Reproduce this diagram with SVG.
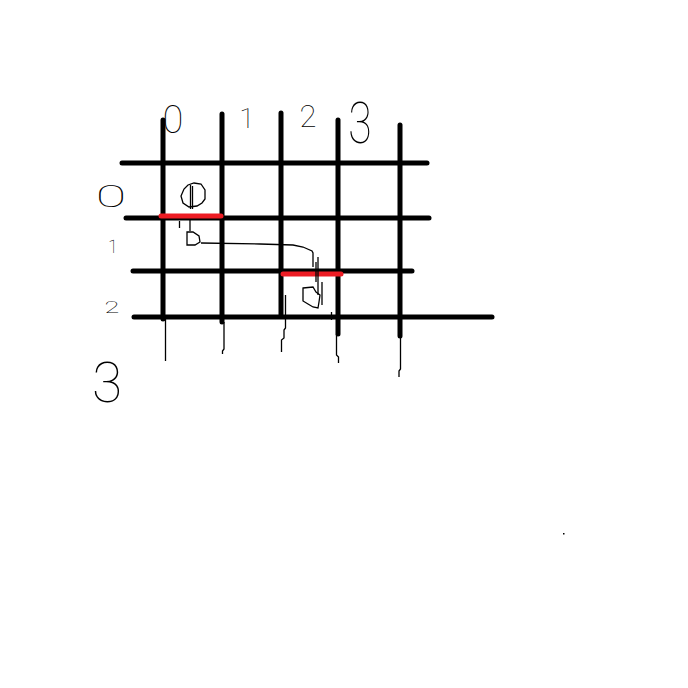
<svg xmlns="http://www.w3.org/2000/svg" width="688" height="688" viewBox="0 0 688 688">
<style>
.grid{stroke:#000;stroke-width:5;stroke-linecap:round;fill:none}
.red{stroke:#ed1c24;stroke-width:5;stroke-linecap:round;fill:none}
.thin{stroke:#000;stroke-width:1.3;fill:none;stroke-linejoin:miter}
.lbl{font-family:Roboto,"Liberation Sans",sans-serif;font-weight:100;fill:#000;text-anchor:middle}
</style>
<rect width="688" height="688" fill="#fff"/>
<g id="grid">
<line class="grid" x1="163" y1="120" x2="163" y2="319"/>
<line class="grid" x1="222" y1="114" x2="222" y2="322"/>
<line class="grid" x1="281" y1="113" x2="281" y2="315"/>
<line class="grid" x1="338" y1="120" x2="338" y2="334"/>
<line class="grid" x1="400" y1="125" x2="400" y2="336"/>
<line class="grid" x1="122" y1="163" x2="427" y2="163"/>
<line class="grid" x1="126" y1="218" x2="429" y2="218"/>
<line class="grid" x1="133" y1="271" x2="412" y2="271"/>
<line class="grid" x1="134" y1="317" x2="492" y2="317"/>
</g>
<g id="highlights">
<line class="red" x1="161" y1="216" x2="221" y2="216"/>
<line class="red" x1="283" y1="274" x2="341" y2="274"/>
</g>
<g id="connectors">
<path class="thin" d="M165.5 318 V361"/>
<path class="thin" d="M224 322 V349 L222.5 351 V354"/>
<path class="thin" d="M285.5 295 V328 L284 330 V338 L281.5 340 V352"/>
<path class="thin" d="M336.5 334 V355 L338.5 357 V363"/>
<path class="thin" d="M400.5 336 V369 L399 371 V377"/>
<path class="thin" d="M331.5 312 V320"/>
<path class="thin" d="M201 243 L260 244 L293 245 L303 247 L312 251 L313 253 V267"/>
<path class="thin" d="M316 262 V282"/>
<path class="thin" d="M318 257 V295"/>
<path class="thin" d="M322 282 V305"/>
<path class="thin" d="M303 288 L313 287 L316 292 L320 295 L319 302 L318 308 L313 307 L308 304 L303 301 Z"/>
<path class="thin" d="M190.5 185 V209"/>
<path class="thin" d="M192.5 186 V209"/>
<path class="thin" d="M190 219 V231"/>
<path class="thin" d="M179.5 221 V228"/>
<path class="thin" d="M188 185 L194 183 L201 184 L205 190 L205 199 L202 203 L197 206 L189 207 L183 203 L181 196 L184 189 Z"/>
<path class="thin" d="M187 232 H193 L199 236 L200 242 L195 245 H187 Z"/>
</g>
<g id="labels">
<text class="lbl" x="173" y="133" font-size="38">0</text>
<text class="lbl" x="247" y="128" font-size="28">1</text>
<text class="lbl" x="308" y="127" font-size="31">2</text>
<text class="lbl" font-size="57" transform="translate(360 143) scale(0.75 1)">3</text>
<text class="lbl" font-size="31" transform="translate(111 207) scale(1.8 1)">0</text>
<text class="lbl" x="113" y="253" font-size="18">1</text>
<text class="lbl" font-size="17" transform="translate(112 313) scale(1.6 1)">2</text>
<text class="lbl" x="107" y="402" font-size="55">3</text>
</g>
<rect x="563" y="533" width="1.5" height="1.5" fill="#000"/>
</svg>
